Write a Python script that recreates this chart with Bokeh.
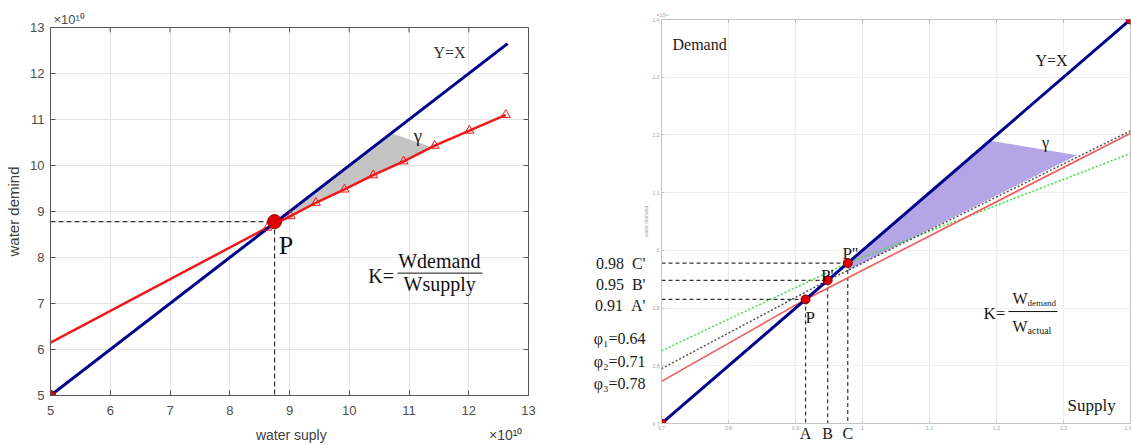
import math
from bokeh.plotting import figure
from bokeh.models import Label, LinearAxis, FixedTicker, Range1d, CustomJSTickFormatter
from bokeh.layouts import row, column
from bokeh.embed import file_html
from bokeh.resources import INLINE

# ---------------- Left panel data (units of 1e10) ----------------
left_ticks = [5, 6, 7, 8, 9, 10, 11, 12, 13]
yx_left = [5.0, 12.65]
supply = [5.0, 8.63, 9.02, 9.44, 9.92, 10.40, 10.91, 11.43, 12.01, 12.62]
demand = [6.15, 8.65, 8.90, 9.19, 9.48, 9.79, 10.09, 10.43, 10.76, 11.10]
p_left_x = [8.75]
p_left_y = [8.78]
gamma_left_x = [8.75, 10.70, 11.38, 10.91, 10.40, 9.92, 9.44, 9.02]
gamma_left_y = [8.75, 10.70, 10.40, 10.09, 9.79, 9.48, 9.19, 8.90]
k_bar_left_x = [10.81, 12.23]
k_bar_left_y = 7.66
left_bottom_texts = {9.03: "water suply", 12.62: "×10¹⁰"}

# ---------------- Right panel data (units of 1e11) ----------------
right_ticks = [0.7, 0.8, 0.9, 1.0, 1.1, 1.2, 1.3, 1.4]
yx_right = [0.7, 1.4]
eq_vals = [0.915, 0.948, 0.978]
eq_names = ["P", "P'", "P''"]
x_names = ["A", "B", "C"]
y_names = ["A'", "B'", "C'"]
eq_texts = ["0.91", "0.95", "0.98"]
phi_texts = ["φ₁=0.64", "φ₂=0.71", "φ₃=0.78"]
red_x = [0.7, 0.915, 1.4]
red_y = [0.773, 0.915, 1.203]
gray_x = [0.7, 0.948, 1.4]
gray_y = [0.795, 0.948, 1.207]
green_x = [0.7, 0.978, 1.4]
green_y = [0.826, 0.978, 1.168]
gamma_right_x = [0.978, 1.19, 1.32, 0.978]
gamma_right_y = [0.978, 1.19, 1.165, 0.965]
k_bar_right_x = [1.2179, 1.2910]
k_bar_right_y = 0.894
y_text_pos = [0.9036, 0.9409, 0.9772]
phi_pos = [0.8473, 0.8074, 0.7693]

SERIF = "Liberation Serif"
SANS = "Liberation Sans"


def lab(p, x, y, text, size, font=SERIF, color="#1a1a1a", align="left",
        baseline="middle", angle=0.0):
    p.add_layout(Label(x=x, y=y, text=text, text_font=font,
                       text_font_size=f"{size}px", text_color=color,
                       text_align=align, text_baseline=baseline, angle=angle))


def style_axis(ax, ticks, size, color, line_color, tick_in):
    ax.ticker = FixedTicker(ticks=ticks)
    ax.major_tick_in = tick_in
    ax.major_tick_out = 0
    ax.minor_tick_line_color = None
    ax.axis_line_color = line_color
    ax.major_tick_line_color = line_color
    ax.major_label_text_font = SANS
    ax.major_label_text_font_size = f"{size}px"
    ax.major_label_text_color = color


def text_axis(labels, size, font, color, standoff):
    return LinearAxis(ticker=FixedTicker(ticks=list(labels.keys())),
                      major_label_overrides=labels,
                      axis_line_color=None, major_tick_line_color=None,
                      minor_tick_line_color=None, major_label_standoff=standoff,
                      major_label_text_font=font,
                      major_label_text_font_size=f"{size}px",
                      major_label_text_color=color)


# ================= LEFT FIGURE =================
p1 = figure(width=583, height=445, x_range=Range1d(5, 13), y_range=Range1d(5, 13),
            output_backend="svg", toolbar_location=None, title="×10¹⁰",
            min_border_left=50, min_border_right=55, min_border_top=27,
            min_border_bottom=48)
p1.title.align = "left"
p1.title.offset = 3
p1.title.standoff = 2
p1.title.text_font = SANS
p1.title.text_font_size = "13px"
p1.title.text_font_style = "normal"
p1.title.text_color = "#4d4d4d"

style_axis(p1.xaxis[0], left_ticks, 13, "#4d4d4d", "#555555", 5)
style_axis(p1.yaxis[0], left_ticks, 13, "#4d4d4d", "#555555", 5)
p1.xaxis[0].major_label_standoff = 10
p1.yaxis[0].major_label_standoff = 6
p1.yaxis[0].axis_label = "water demind"
p1.yaxis[0].axis_label_text_font = SANS
p1.yaxis[0].axis_label_text_font_size = "15px"
p1.yaxis[0].axis_label_text_font_style = "normal"
p1.yaxis[0].axis_label_text_color = "#404040"
p1.yaxis[0].axis_label_standoff = 5
p1.add_layout(text_axis(left_bottom_texts, 14, SANS, "#404040", 3), "below")

p1.xgrid.ticker = FixedTicker(ticks=left_ticks)
p1.ygrid.ticker = FixedTicker(ticks=left_ticks)
p1.grid.grid_line_color = "#e4e4e4"
p1.outline_line_color = "#555555"

# inward ticks on top and right edges
tick_len_y = 5 / 46.25
tick_len_x = 5 / 59.75
p1.segment(x0=left_ticks, y0=[13] * len(left_ticks), x1=left_ticks,
           y1=[13 - tick_len_y] * len(left_ticks), line_color="#555555")
p1.segment(x0=[13] * len(left_ticks), y0=left_ticks,
           x1=[13 - tick_len_x] * len(left_ticks), y1=left_ticks, line_color="#555555")

p1.patch(gamma_left_x, gamma_left_y, fill_color="#c4c4c4", line_color=None)
p1.line([5.0, p_left_x[0]], [p_left_y[0], p_left_y[0]], line_dash="5 3",
        line_color="#333333", line_width=1.2)
p1.line([p_left_x[0], p_left_x[0]], [p_left_y[0], 5.0], line_dash="5 3",
        line_color="#333333", line_width=1.2)
p1.line(supply, demand, line_color="#f01818", line_width=2.5)
p1.line(yx_left, yx_left, line_color="#00008b", line_width=3)
p1.scatter(supply[1:], demand[1:], marker="triangle", size=9, fill_color=None,
           line_color="#f01818", line_width=1)
p1.scatter([yx_left[0]], [yx_left[0]], size=10, fill_color="#e00000",
           line_color="#a00000")
p1.scatter(p_left_x, p_left_y, size=14, fill_color="#e00000", line_color="#a00000")

lab(p1, 11.41, 12.46, "Y=X", 16, SERIF, "#333333")
lab(p1, 11.15, 10.66, "γ", 19, SERIF, "#222222", "center")
lab(p1, 8.82, 8.265, "P", 26, SERIF, "#111111")
lab(p1, 10.32, 7.595, "K=", 20, SERIF, "#111111")
lab(p1, 10.82, 7.92, "Wdemand", 20, SERIF, "#111111")
lab(p1, 10.91, 7.42, "Wsupply", 20, SERIF, "#111111")
p1.line(k_bar_left_x, [k_bar_left_y, k_bar_left_y], line_color="#111111", line_width=1)

# ================= RIGHT FIGURE =================
p2 = figure(width=548, height=445, x_range=Range1d(0.7, 1.4), y_range=Range1d(0.7, 1.4),
            output_backend="svg", toolbar_location=None, title="×10¹¹",
            min_border_left=78, min_border_right=1, min_border_top=19,
            min_border_bottom=22)
p2.title.align = "left"
p2.title.offset = -5
p2.title.standoff = 3
p2.title.text_font = SANS
p2.title.text_font_size = "5px"
p2.title.text_font_style = "normal"
p2.title.text_color = "#a0a0a0"

fmt = CustomJSTickFormatter(code="return (Math.round(tick*10)/10).toString();")
for ax in (p2.xaxis[0], p2.yaxis[0]):
    style_axis(ax, right_ticks, 5, "#a0a0a0", "#c4c4c4", 3)
    ax.formatter = fmt
    ax.major_label_standoff = 2
p2.yaxis[0].axis_label = "water demand"
p2.yaxis[0].axis_label_text_font = SANS
p2.yaxis[0].axis_label_text_font_size = "5px"
p2.yaxis[0].axis_label_text_font_style = "normal"
p2.yaxis[0].axis_label_text_color = "#a8a8a8"
p2.yaxis[0].axis_label_standoff = 1

left_texts = {}
for t, n, yy in zip(eq_texts, y_names, y_text_pos):
    left_texts[yy] = t + "\u2002" + n
for t, yy in zip(phi_texts, phi_pos):
    left_texts[yy] = t
p2.add_layout(text_axis(left_texts, 16, SERIF, "#1a1a1a", -12), "left")
p2.add_layout(text_axis(dict(zip(eq_vals, x_names)), 16, SERIF, "#1a1a1a", -14), "below")

p2.xgrid.ticker = FixedTicker(ticks=right_ticks)
p2.ygrid.ticker = FixedTicker(ticks=right_ticks)
p2.grid.grid_line_color = "#eeeeee"
p2.outline_line_color = "#c4c4c4"

rt_len_y = 3 / 577.1
p2.segment(x0=right_ticks, y0=[1.4] * len(right_ticks), x1=right_ticks,
           y1=[1.4 - rt_len_y] * len(right_ticks), line_color="#b0b0b0")

p2.patch(gamma_right_x, gamma_right_y, fill_color="#b4a6e6", line_color=None)
for v in eq_vals:
    p2.line([0.7, v], [v, v], line_dash="4 3", line_color="#333333", line_width=1.2)
    p2.line([v, v], [v, 0.7], line_dash="4 3", line_color="#333333", line_width=1.2)
p2.line(green_x, green_y, line_color="#3ee03e", line_width=1.5, line_dash="2 2")
p2.line(gray_x, gray_y, line_color="#555555", line_width=1.5, line_dash="2 2")
p2.line(red_x, red_y, line_color="#f25a5a", line_width=1.6)
p2.line(yx_right, yx_right, line_color="#00008b", line_width=3)
p2.scatter(yx_right, yx_right, size=9, fill_color="#e00000", line_color="#800000")
p2.scatter(eq_vals, eq_vals, size=9, fill_color="#e00000", line_color="#800000")

lab(p2, 0.7164, 1.3567, "Demand", 16)
lab(p2, 1.2582, 1.329, "Y=X", 16)
lab(p2, 1.2731, 1.187, "γ", 16, align="center")
lab(p2, 1.306, 0.731, "Supply", 17)
lab(p2, 1.1806, 0.891, "K=", 17)
lab(p2, 1.2239, 0.917, "W", 16)
lab(p2, 1.2463, 0.908, "demand", 9)
lab(p2, 1.2239, 0.868, "W", 16)
lab(p2, 1.2463, 0.861, "actual", 10)
p2.line(k_bar_right_x, [k_bar_right_y, k_bar_right_y], line_color="#111111", line_width=1)

lab(p2, 0.9149, 0.8837, eq_names[0], 17, baseline="alphabetic")
lab(p2, 0.9567, 0.9565, eq_names[1], 17, align="right", baseline="alphabetic")
lab(p2, 0.9701, 0.9946, eq_names[2], 17, baseline="alphabetic")

layout = row(column(p1), column(p2))
open("out.html", "w").write(file_html(layout, INLINE))
